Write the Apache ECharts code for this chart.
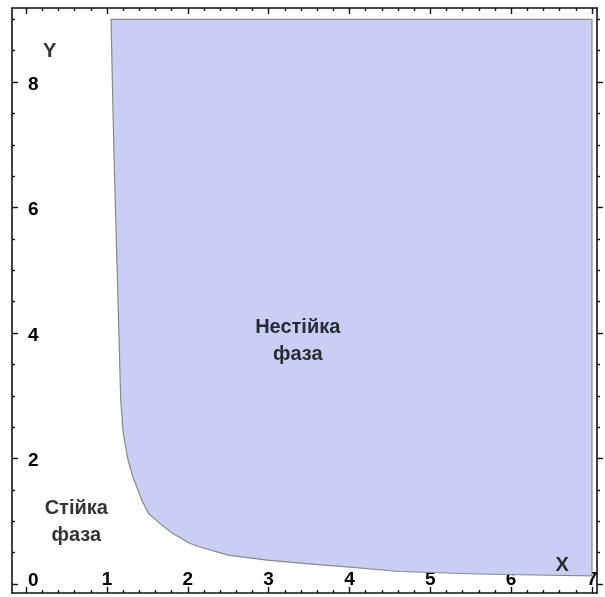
<!DOCTYPE html>
<html><head><meta charset="utf-8">
<script src="https://cdn.jsdelivr.net/npm/echarts@6/dist/echarts.min.js"></script>
<style>html,body{margin:0;padding:0;background:#fff}#c{width:605px;height:597px}</style>
</head><body><div id="c"></div>
<script>
// Boundary curve of the unstable-phase region
const curveX = [1.05, 1.086, 1.136, 1.17, 1.20, 1.26, 1.32, 1.43, 1.51, 1.65, 1.81, 2.02, 2.15, 2.5, 2.98, 3.5, 4.0, 4.62, 5.6, 6.47, 7.0];
const curveY = [9.0, 6.87, 4.53, 2.93, 2.41, 1.98, 1.71, 1.34, 1.13, 0.97, 0.81, 0.65, 0.59, 0.46, 0.38, 0.32, 0.27, 0.20, 0.16, 0.14, 0.13];
const regionTop = 9.0;
const regionRight = 7.0;

// Ticks
const xMajor = [0, 1, 2, 3, 4, 5, 6, 7];
const xLabels = [1, 2, 3, 4, 5, 6, 7];
const yMajor = [0, 2, 4, 6, 8];
const yLabels = [0, 2, 4, 6, 8];
const xMinor = [];
for (let i = 0; i <= 35; i++) { if (i % 5 !== 0) xMinor.push(+(i * 0.2).toFixed(2)); }
const yMinor = [];
for (let i = 0; i <= 18; i++) { if (i % 4 !== 0) yMinor.push(+(i * 0.5).toFixed(2)); }

// Text annotations
const noteText = ['Нестійка\nфаза', 'Стійка\nфаза', 'Y', 'X'];
const noteX = [3.36, 0.62, 0.29, 6.63];
const noteY = [3.87, 0.99, 8.48, 0.30];

const X_MIN = -0.175, X_MAX = 7.062, Y_MIN = -0.143, Y_MAX = 9.18;
const FONT = "'Liberation Sans', Arial, sans-serif";
const INK = '#000';
const lineStyle = { color: '#111', width: 1.6 };

function xAx(gridIndex, position, ticks, len, labels) {
  return {
    type: 'value', gridIndex, position, min: X_MIN, max: X_MAX,
    axisLine: { show: gridIndex === 0, onZero: false, lineStyle },
    axisTick: { show: true, inside: true, length: len, customValues: ticks, lineStyle: { color: '#111', width: 1.4 } },
    axisLabel: labels ? { show: true, inside: true, margin: 4, customValues: labels, color: INK, fontSize: 19, fontWeight: 'bold', fontFamily: FONT } : { show: false },
    splitLine: { show: false }
  };
}
function yAx(gridIndex, position, ticks, len, labels, inside) {
  return {
    type: 'value', gridIndex, position, min: Y_MIN, max: Y_MAX,
    axisLine: { show: gridIndex === 0, onZero: false, lineStyle },
    axisTick: { show: true, inside: inside, length: len, customValues: ticks, lineStyle: { color: '#111', width: 1.4 } },
    axisLabel: labels ? {
      show: true, inside: true, margin: 16, customValues: labels, color: INK, fontSize: 19, fontWeight: 'bold', fontFamily: FONT,
      padding: [5, 0, 0, 0],
      formatter: v => (v === 0 ? '{z|0}' : String(v)),
      rich: { z: { fontSize: 19, fontWeight: 'bold', fontFamily: FONT, color: INK, padding: [0, 0, 12, 0] } }
    } : { show: false },
    splitLine: { show: false }
  };
}

const gridPos = { left: 12, top: 8, right: 8, bottom: 4, containLabel: false };
const chart = echarts.init(document.getElementById('c'), null, { renderer: 'canvas' });
chart.setOption({
  animation: false,
  backgroundColor: '#fff',
  grid: [Object.assign({}, gridPos), Object.assign({}, gridPos)],
  xAxis: [
    xAx(0, 'bottom', xMajor, 6, xLabels),
    xAx(0, 'top', xMajor, 6, null),
    xAx(1, 'bottom', xMinor, 3, null),
    xAx(1, 'top', xMinor, 3, null)
  ],
  yAxis: [
    yAx(0, 'left', yMajor, 6, yLabels, true),
    yAx(0, 'right', yMajor, 6, null, false),
    yAx(1, 'left', yMinor, 3, null, true),
    yAx(1, 'right', yMinor, 3, null, false)
  ],
  series: [
    {
      type: 'custom', xAxisIndex: 0, yAxisIndex: 0, z: 1,
      data: curveX.map((x, i) => [x, curveY[i]]),
      encode: { x: 0, y: 1 },
      renderItem: function (params, api) {
        if (params.dataIndex !== 0) return null;
        const pts = curveX.map((x, i) => api.coord([x, curveY[i]]));
        pts.push(api.coord([regionRight, regionTop]));
        return {
          type: 'polygon',
          shape: { points: pts },
          style: { fill: '#c9cef5', stroke: '#8a8a8a', lineWidth: 1.2 }
        };
      }
    },
    {
      type: 'scatter', xAxisIndex: 0, yAxisIndex: 0, z: 5, symbolSize: 0, silent: true,
      data: noteText.map((t, i) => [noteX[i], noteY[i], t]),
      label: {
        show: true, position: 'inside', formatter: p => p.value[2],
        color: INK, fontSize: 20, fontWeight: 'bold', fontFamily: FONT, lineHeight: 27, align: 'center'
      }
    }
  ]
});
</script>
</body></html>
